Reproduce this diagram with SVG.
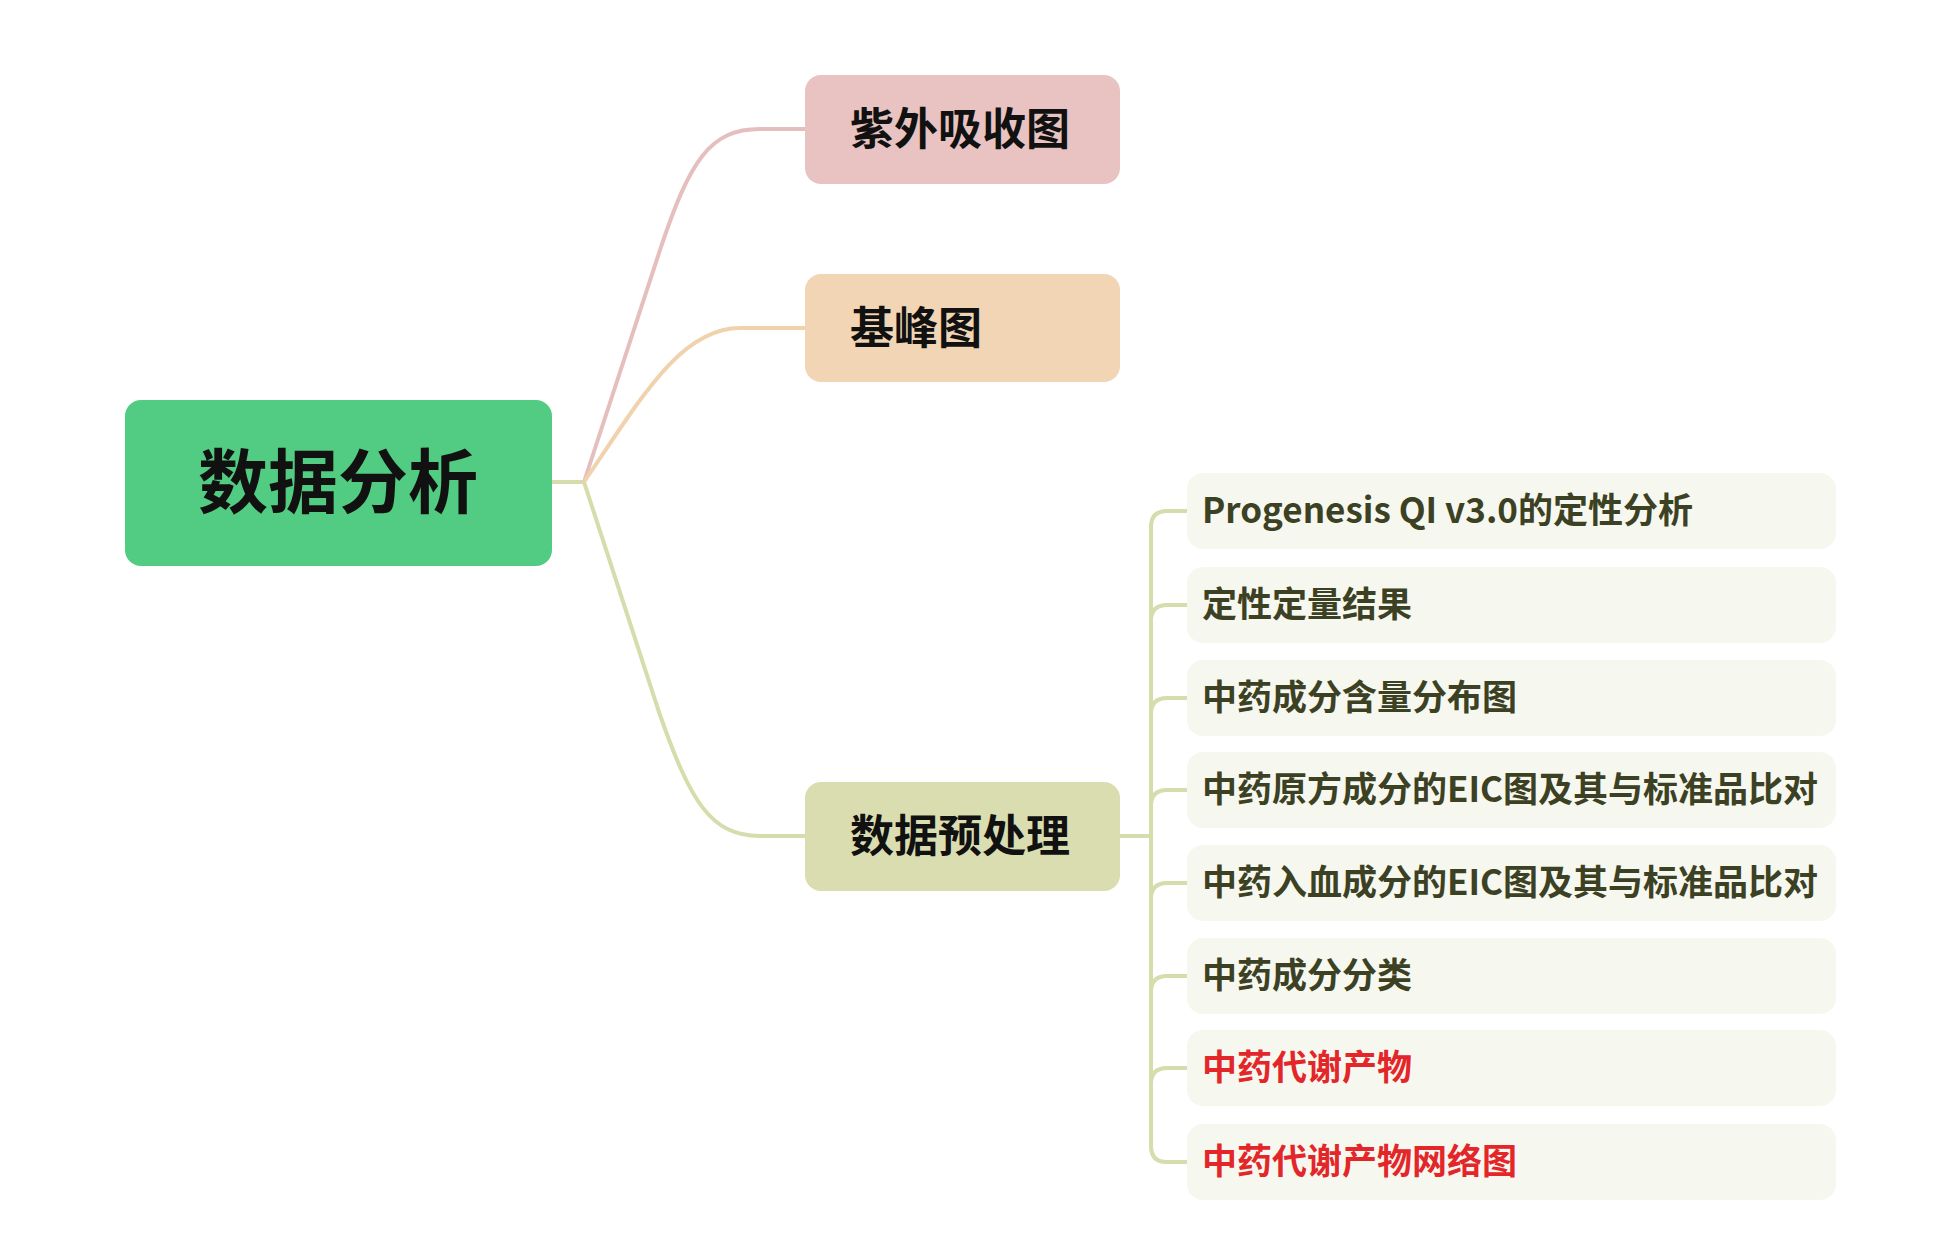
<svg xmlns="http://www.w3.org/2000/svg" width="1954" height="1251" viewBox="0 0 1954 1251">
<style>
text{font-family:"Noto Sans CJK SC","Noto Sans",sans-serif;font-weight:bold}
.c{fill:none;stroke-width:4}
.leaf rect{fill:#f6f7ee}
.leaf text{font-size:35px;fill:#3c4124}
.leaf .r{fill:#e3262a}
.m{font-size:44px;fill:#111}
</style>
<rect width="1954" height="1251" fill="#fff"/>
<g id="connectors">
<path class="c" stroke="#d6dcab" d="M552,482 H584"/>
<path class="c" stroke="#e5bfbe" d="M584,482 L660,250 C690,160 710,129 760,129 H805"/>
<path class="c" stroke="#f0d2ad" d="M584,482 C640,400 680,328 740,328 H805"/>
<path class="c" stroke="#d6dcab" d="M584,482 L660,715 C690,800 710,836 760,836 H805"/>
<path class="c" stroke="#d6dcab" d="M1120,836 H1151 M1151,527 Q1151,511 1167,511 H1187 M1151,527 V1146 Q1151,1162 1167,1162 H1187 M1151,621 Q1151,605 1167,605 H1187 M1151,714 Q1151,698 1167,698 H1187 M1151,806 Q1151,790 1167,790 H1187 M1151,899 Q1151,883 1167,883 H1187 M1151,992 Q1151,976 1167,976 H1187 M1151,1084 Q1151,1068 1167,1068 H1187"/>
</g>
<g id="root"><rect x="125" y="400" width="427" height="166" rx="16" fill="#52cc82"/><text x="338" y="508" font-size="70" text-anchor="middle" fill="#111">数据分析</text></g>
<g id="n1"><rect x="805" y="75" width="315" height="109" rx="16" fill="#e8c3c2"/><text class="m" x="850" y="145">紫外吸收图</text></g>
<g id="n2"><rect x="805" y="274" width="315" height="108" rx="16" fill="#f2d5b5"/><text class="m" x="850" y="344">基峰图</text></g>
<g id="n3"><rect x="805" y="782" width="315" height="109" rx="16" fill="#d9ddb0"/><text class="m" x="850" y="852">数据预处理</text></g>
<g id="l1" class="leaf"><rect x="1187" y="473" width="649" height="76" rx="16"/><text x="1202" y="523">Progenesis QI v3.0的定性分析</text></g>
<g id="l2" class="leaf"><rect x="1187" y="567" width="649" height="76" rx="16"/><text x="1202" y="617">定性定量结果</text></g>
<g id="l3" class="leaf"><rect x="1187" y="660" width="649" height="76" rx="16"/><text x="1202" y="710">中药成分含量分布图</text></g>
<g id="l4" class="leaf"><rect x="1187" y="752" width="649" height="76" rx="16"/><text x="1202" y="802">中药原方成分的EIC图及其与标准品比对</text></g>
<g id="l5" class="leaf"><rect x="1187" y="845" width="649" height="76" rx="16"/><text x="1202" y="895">中药入血成分的EIC图及其与标准品比对</text></g>
<g id="l6" class="leaf"><rect x="1187" y="938" width="649" height="76" rx="16"/><text x="1202" y="988">中药成分分类</text></g>
<g id="l7" class="leaf"><rect x="1187" y="1030" width="649" height="76" rx="16"/><text class="r" x="1202" y="1080">中药代谢产物</text></g>
<g id="l8" class="leaf"><rect x="1187" y="1124" width="649" height="76" rx="16"/><text class="r" x="1202" y="1174">中药代谢产物网络图</text></g>
</svg>
